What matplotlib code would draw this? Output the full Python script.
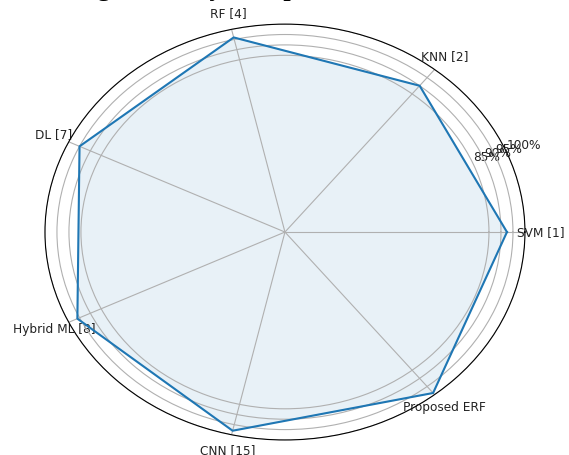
import matplotlib.pyplot as plt
import numpy as np

models = ['SVM [1]', 'KNN [2]', 'RF [4]', 'DL [7]', 'Hybrid ML [8]', 'CNN [15]', 'Proposed ERF']
accuracy = [92.5, 90, 96, 95, 96, 98, 99]
r_ticks = [85, 90, 95, 100]
r_labels = ['85%', '90%', '95%', '100%']

angles = np.linspace(0, 2 * np.pi, len(models), endpoint=False).tolist()
vals = accuracy + accuracy[:1]
ang = angles + angles[:1]

fig = plt.figure(figsize=(5.69, 4.55), dpi=100)
ax = fig.add_axes([0.079, 0.033, 0.8436, 0.914], polar=True)
ax.set_aspect('auto')  # original is stretched into an ellipse

ax.plot(ang, vals, color='#1f77b4', linewidth=1.5)
ax.fill(ang, vals, color='#1f77b4', alpha=0.1)

ax.set_xticks(angles)
ax.set_xticklabels(models, fontsize=8.7, color='#222222')
ax.tick_params(axis='x', pad=1.2)
ax.set_ylim(0, 100)
ax.set_yticks(r_ticks)
ax.set_yticklabels(r_labels, fontsize=8.7, color='#222222')
ax.grid(color='#b0b0b0', linewidth=0.8)

# caption of the source figure, cut off at the top edge
fig.text(0.025, 1.008, 'Showing Accuracy Comparison of Models', ha='left', va='baseline',
         fontsize=19, fontweight='bold', family='Liberation Serif')

fig.savefig('out.png', dpi=100)
